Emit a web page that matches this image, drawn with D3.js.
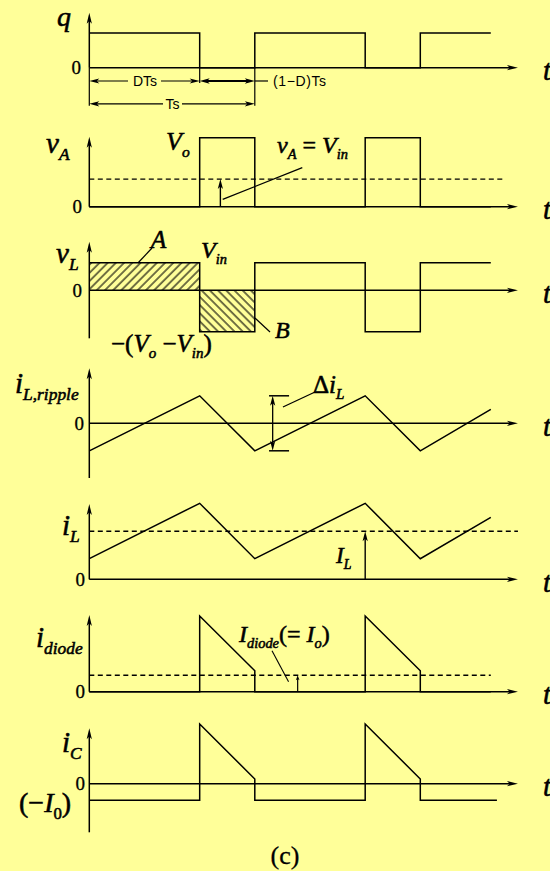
<!DOCTYPE html>
<html>
<head>
<meta charset="utf-8">
<script src="https://cdn.jsdelivr.net/npm/d3@7"></script>
<style>
    html, body { margin: 0; padding: 0; background: #ffff99; }
    svg { display: block; }
    text { font-family: "Liberation Serif", "Times New Roman", serif; fill: #000; }
    text.math { stroke: #000; stroke-width: 0.55px; }
    text.zero { stroke: #000; stroke-width: 0.3px; }
</style>
</head>
<body>
<svg id="chart" width="550" height="871"></svg>
<script>
// waveforms, time in units of Ts (D read as ~0.667), values in panel units
const qWave = [[0, 1], [0.667, 1], [0.667, 0], [1, 0], [1, 1], [1.667, 1], [1.667, 0], [2, 0], [2, 1], [2.426, 1]];
const vAWave = [[0, 0], [0.667, 0], [0.667, 1], [1, 1], [1, 0], [1.667, 0], [1.667, 1], [2, 1], [2, 0], [2.426, 0]];
const vLWave = [[0, 0.4], [0.667, 0.4], [0.667, -0.6], [1, -0.6], [1, 0.4], [1.667, 0.4], [1.667, -0.6], [2, -0.6], [2, 0.4], [2.426, 0.4]];
const rippleWave = [[0, -2.75], [0.667, 2.75], [1, -2.75], [1.667, 2.75], [2, -2.75], [2.426, 1.4]];
const iLWave = [[0, 2.06], [0.667, 7.6], [1, 2.06], [1.667, 7.6], [2, 2.06], [2.426, 6.2]];
const diodeWave = [[0, 0], [0.667, 0], [0.667, 7.57], [1, 2.1], [1, 0], [1.667, 0], [1.667, 7.57], [2, 2.1], [2, 0], [2.426, 0]];
const iCWave = [[0, -1.66], [0.667, -1.66], [0.667, 5.97], [1, 0.47], [1, -1.66], [1.667, -1.66], [1.667, 5.97], [2, 0.47], [2, -1.66], [2.463, -1.66]];

// average levels
const vinLevel = 0.4;      // v_A average = V_in (V_o = 1)
const iLAvg = 4.8;         // I_L
const iDiodeAvg = 1.65;    // I_diode = I_o
const hatchA = [0, 0.667, 0, 0.4];      // t0, t1, v0, v1
const hatchB = [0.667, 1, -0.6, 0];

// panel layout
const panels = [
    { key: "q", zero: 67.7, unit: 34.7, top: 1.585, bottom: 0, zeroX: 81 },
    { key: "vA", zero: 206.7, unit: 69, top: 1.014, bottom: 0, zeroX: 82 },
    { key: "vL", zero: 290.3, unit: 69, top: 0.704, bottom: -0.696, zeroX: 82 },
    { key: "ripple", zero: 423.3, unit: 10, top: 5.5, bottom: -5.47, zeroX: 84 },
    { key: "iL", zero: 579.3, unit: 10, top: 7.53, bottom: 0, zeroX: 85 },
    { key: "diode", zero: 691.7, unit: 10, top: 7.67, bottom: 0, zeroX: 85 },
    { key: "iC", zero: 783.7, unit: 10, top: 5.54, bottom: -4.86, zeroX: 85 }
];
const axisEnd = 2.59;

const svg = d3.select("#chart");
const x = d3.scaleLinear().domain([0, 2]).range([89.3, 420.3]);
const yOf = {};
panels.forEach((p) => {
    yOf[p.key] = d3.scaleLinear().domain([0, 1]).range([p.zero, p.zero - p.unit]);
});

// hatch patterns
const defs = svg.append("defs");
[["hatchA", 45], ["hatchB", -45]].forEach(([id, ang]) => {
    const pat = defs.append("pattern")
        .attr("id", id)
        .attr("patternUnits", "userSpaceOnUse")
        .attr("width", 5.8)
        .attr("height", 10)
        .attr("patternTransform", `rotate(${ang})`);
    pat.append("line")
        .attr("x1", 1).attr("y1", 0).attr("x2", 1).attr("y2", 10)
        .attr("stroke", "#000").attr("stroke-width", 1.1);
});

const ink = "#000";
const lineW = 1.5;

function arrowHead(xt, yt, angle, len = 11, half = 2.6) {
    svg.append("path")
        .attr("d", `M0,0 L${-len},${-half} L${-len * 0.75},0 L${-len},${half} Z`)
        .attr("transform", `translate(${xt},${yt}) rotate(${angle})`)
        .attr("fill", ink);
}

function seg(x1, y1, x2, y2, w = lineW, dash = null) {
    const l = svg.append("line")
        .attr("x1", x1).attr("y1", y1).attr("x2", x2).attr("y2", y2)
        .attr("stroke", ink).attr("stroke-width", w);
    if (dash) l.attr("stroke-dasharray", dash);
    return l;
}

function mathText(xp, yp, parts, size, anchor = "start") {
    const t = svg.append("text")
        .attr("class", "math")
        .attr("x", xp).attr("y", yp)
        .attr("font-size", size)
        .attr("text-anchor", anchor);
    let shift = 0;
    parts.forEach(([str, kind]) => {
        const sub = kind.includes("s");
        const target = sub ? size * 0.25 : 0;
        t.append("tspan")
            .attr("dy", target - shift)
            .attr("font-size", sub ? size * 0.6 : size)
            .attr("font-style", kind.includes("r") ? "normal" : "italic")
            .text(str);
        shift = target;
    });
    return t;
}

// hatched areas (under the waveform)
const yL = yOf.vL;
svg.append("rect")
    .attr("x", x(hatchA[0])).attr("y", yL(hatchA[3]))
    .attr("width", x(hatchA[1]) - x(hatchA[0]))
    .attr("height", yL(hatchA[2]) - yL(hatchA[3]))
    .attr("fill", "url(#hatchA)");
svg.append("rect")
    .attr("x", x(hatchB[0])).attr("y", yL(hatchB[3]))
    .attr("width", x(hatchB[1]) - x(hatchB[0]))
    .attr("height", yL(hatchB[2]) - yL(hatchB[3]))
    .attr("fill", "url(#hatchB)");

// axes
panels.forEach((p) => {
    const y = yOf[p.key];
    seg(x(0), y(0), x(axisEnd) - 6, y(0));
    arrowHead(x(axisEnd), y(0), 0);
    seg(x(0), y(p.bottom), x(0), y(p.top) + 6);
    arrowHead(x(0), y(p.top), -90);
    svg.append("text")
        .attr("class", "zero")
        .attr("x", p.zeroX).attr("y", y(0) + 6.5)
        .attr("text-anchor", "end")
        .attr("font-size", 19)
        .text("0");
    svg.append("text")
        .attr("class", "math")
        .attr("x", 543).attr("y", y(0) + 12.5)
        .attr("font-size", 29)
        .attr("font-style", "italic")
        .text("t");
});

// waveforms
const waves = [
    ["q", qWave], ["vA", vAWave], ["vL", vLWave], ["ripple", rippleWave],
    ["iL", iLWave], ["diode", diodeWave], ["iC", iCWave]
];
waves.forEach(([key, pts]) => {
    const y = yOf[key];
    svg.append("path")
        .attr("d", d3.line().x((d) => x(d[0])).y((d) => y(d[1]))(pts))
        .attr("fill", "none")
        .attr("stroke", ink)
        .attr("stroke-width", lineW)
        .attr("stroke-linejoin", "miter");
});

// dashed average lines
seg(x(0), yOf.vA(vinLevel), x(2.507), yOf.vA(vinLevel), 1.4, "5,3.5");
seg(x(0), yOf.iL(iLAvg), x(axisEnd), yOf.iL(iLAvg), 1.4, "5,3.5");
seg(x(0), yOf.diode(iDiodeAvg), x(2.426), yOf.diode(iDiodeAvg), 1.4, "5,3.5");

// q panel: dimension lines
const yq = yOf.q;
seg(x(0), yq(0), x(0), yq(-1.1), 1.2);
seg(x(0.667), yq(0), x(0.667), yq(-0.44), 1.2);
seg(x(1), yq(0), x(1), yq(-1.1), 1.2);
const yD = yq(-0.383), yT = yq(-1.04);
const sans = "'Liberation Sans', Arial, sans-serif";
seg(x(0) + 6, yD, 128, yD, 1.2);
seg(161, yD, x(0.667) - 6, yD, 1.2);
arrowHead(x(0), yD, 180, 10, 2.6);
arrowHead(x(0.667), yD, 0, 10, 2.6);
seg(x(0.667) + 6, yD, x(1) - 6, yD, 2.2);
arrowHead(x(0.667), yD, 180, 10, 2.8);
arrowHead(x(1), yD, 0, 10, 2.8);
seg(x(1), yD, 268, yD, 1.2);
seg(x(0) + 6, yT, 163, yT, 1.2);
seg(182, yT, x(1) - 6, yT, 1.2);
arrowHead(x(0), yT, 180, 10, 2.6);
arrowHead(x(1), yT, 0, 10, 2.6);
svg.append("text").attr("x", 145).attr("y", yD + 5).attr("text-anchor", "middle")
    .style("font-family", sans).attr("font-size", 14).text("DTs");
svg.append("text").attr("x", 172.5).attr("y", yT + 5).attr("text-anchor", "middle")
    .style("font-family", sans).attr("font-size", 14).text("Ts");
svg.append("text").attr("x", 273).attr("y", yD + 5)
    .style("font-family", sans).attr("font-size", 14)
    .attr("letter-spacing", 0.6).text("(1\u2212D)Ts");

// vA annotation
const yA = yOf.vA;
seg(x(0.792), yA(0), x(0.792), yA(vinLevel) + 6, 1.4);
arrowHead(x(0.792), yA(vinLevel), -90, 10, 2.6);
seg(x(0.806), yA(0.107), x(1.287), yA(0.565), 1.3);

// vL leaders
seg(x(0.294), yL(0.396), x(0.379), yL(0.613), 1.2);
seg(x(1.001), yL(-0.401), x(1.092), yL(-0.604), 1.2);

// ripple delta marker
const yR = yOf.ripple;
seg(x(1.108), yR(2.75) + 6, x(1.108), yR(-2.75) - 6, 1.3);
arrowHead(x(1.108), yR(2.75), -90, 10, 2.6);
arrowHead(x(1.108), yR(-2.75), 90, 10, 2.6);
seg(x(1.086), yR(2.75), x(1.207), yR(2.75), 1.5);
seg(x(1.086), yR(-2.75), x(1.207), yR(-2.75), 1.5);
seg(x(1.170), yR(1.63), x(1.364), yR(3.13), 1.3);

// I_L arrow
const yI = yOf.iL;
seg(x(1.667), yI(0), x(1.667), yI(iLAvg) + 6, 1.4);
arrowHead(x(1.667), yI(iLAvg), -90, 10, 2.6);

// I_diode arrow and leader
const yDi = yOf.diode;
seg(x(1.259), yDi(0), x(1.259), yDi(iDiodeAvg) + 3, 1.2);
arrowHead(x(1.259), yDi(iDiodeAvg), -90, 5, 1.8);
seg(x(1.204), yDi(1.0), x(1.104), yDi(4.1), 1.1);

// labels
mathText(57, 26, [["q", "b"]], 28);
mathText(46, 153, [["v", "b"], ["A", "s"]], 29);
mathText(166, 150, [["V", "b"], ["o", "s"]], 26);
mathText(277, 153, [["v", "b"], ["A", "s"], [" = ", "r"], ["V", "b"], ["in", "s"]], 24);
mathText(56, 263, [["v", "b"], ["L", "s"]], 29);
mathText(151, 248, [["A", "b"]], 25);
mathText(201, 258, [["V", "b"], ["in", "s"]], 24);
mathText(275, 338, [["B", "b"]], 24);
mathText(111, 352, [["\u2212(", "r"], ["V", "b"], ["o", "s"], [" \u2212", "r"], ["V", "b"], ["in", "s"], [")", "r"]], 25);
mathText(15, 393, [["i", "b"], ["L,ripple", "s"]], 29);
mathText(313, 393, [["\u0394", "r"], ["i", "b"], ["L", "s"]], 25);
mathText(62, 535, [["i", "b"], ["L", "s"]], 29);
mathText(336, 563, [["I", "b"], ["L", "s"]], 23);
mathText(36, 647, [["i", "b"], ["diode", "s"]], 29);
mathText(239, 642, [["I", "b"], ["diode", "s"], ["(= ", "r"], ["I", "b"], ["o", "s"], [")", "r"]], 24);
mathText(62, 752, [["i", "b"], ["C", "s"]], 29);
mathText(19, 812, [["(\u2212", "r"], ["I", "b"], ["0", "rs"], [")", "r"]], 28);
svg.append("text").attr("x", 285).attr("y", 864).attr("text-anchor", "middle")
    .attr("font-size", 26).attr("stroke", "#000").attr("stroke-width", 0.3).text("(c)");
</script>
</body>
</html>
